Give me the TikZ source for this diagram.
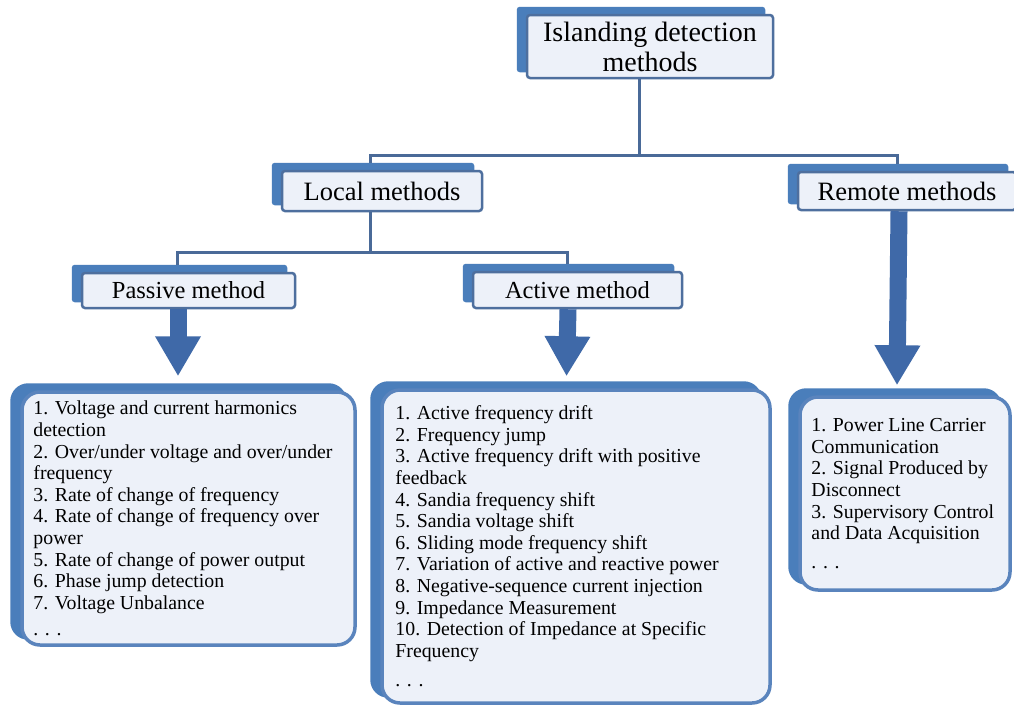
\documentclass[tikz,border=0pt]{standalone}
\usepackage{fontspec}
\setmainfont{Liberation Serif}
\usetikzlibrary{backgrounds,arrows.meta}

\definecolor{backblue}{HTML}{4A7EBB}
\definecolor{edgeblue}{HTML}{4E6F9E}
\definecolor{listedge}{HTML}{5A84BD}
\definecolor{paleblue}{HTML}{EDF1F9}
\definecolor{arrowblue}{HTML}{3F69A8}
\definecolor{linkblue}{HTML}{4A6A98}

\begin{document}
\begin{tikzpicture}[x=1pt,y=-1pt,
  head/.style={draw=edgeblue, line width=2.5pt, fill=paleblue, rounded corners=3pt, inner sep=0pt},
  headfont/.style={font=\fontsize{26.5}{28}\selectfont},
  listframe/.style={draw=listedge, line width=3.5pt, fill=paleblue, rounded corners=18pt, inner sep=0pt},
  listtext/.style={anchor=west, align=left, inner sep=0pt, font=\fontsize{19.8}{21.6}\selectfont},
  shadowback/.style={fill=backblue},
  link/.style={draw=linkblue, line width=3pt},
  fat/.style={draw=arrowblue, line width=17pt, -{Triangle[width=43pt,length=40pt]}},
]
\useasboundingbox (0,0) rectangle (1014,707);

% header boxes
\node[head, minimum width=246pt, minimum height=63pt, align=center,
      font=\fontsize{28}{30}\selectfont] (title) at (650,46.5)
      {Islanding detection\\methods};
\node[head, headfont, minimum width=200pt, minimum height=40pt] (local) at (382,191) {Local methods};
\node[head, headfont, minimum width=218pt, minimum height=38pt] (remote) at (907,191) {Remote methods};
\node[head, minimum width=213pt, minimum height=35pt, font=\fontsize{24.5}{26}\selectfont] (passive) at (188.5,290.5) {Passive method};
\node[head, minimum width=209pt, minimum height=36pt, font=\fontsize{24.5}{26}\selectfont] (active) at (577.5,290) {Active method};

% list frames
\node[listframe, minimum width=333pt, minimum height=253pt] (plist) at (188.5,518.5) {};
\node[listframe, minimum width=388pt, minimum height=313pt] (alist) at (576,546.5) {};
\node[listframe, minimum width=210pt, minimum height=193pt] (rlist) at (905,493.5) {};

% list contents
\node[listtext] (ptext) at ([xshift=13pt]plist.west) {%
1. Voltage and current harmonics\\
detection\\
2. Over/under voltage and over/under\\
frequency\\
3. Rate of change of frequency\\
4. Rate of change of frequency over\\
power\\
5. Rate of change of power output\\
6. Phase jump detection\\
7. Voltage Unbalance\\[4.5pt]
. . .};
\node[listtext] (atext) at ([xshift=15pt]alist.west) {%
1. Active frequency drift\\
2. Frequency jump\\
3. Active frequency drift with positive\\
feedback\\
4. Sandia frequency shift\\
5. Sandia voltage shift\\
6. Sliding mode frequency shift\\
7. Variation of active and reactive power\\
8. Negative-sequence current injection\\
9. Impedance Measurement\\
10. Detection of Impedance at Specific\\
Frequency\\[8pt]
. . .};
\node[listtext] (rtext) at ([xshift=13pt]rlist.west) {%
1. Power Line Carrier\\
Communication\\
2. Signal Produced by\\
Disconnect\\
3. Supervisory Control\\
and Data Acquisition\\[7pt]
. . .};

% offset blue backs behind every box
\begin{scope}[on background layer]
  \fill[white] (0,0) rectangle (1014,707);
  \foreach \n in {title,local,remote,passive,active}
    \fill[shadowback, rounded corners=3pt]
      ([shift={(-9,-7)}]\n.north west) rectangle ([shift={(-9,-7)}]\n.south east);
  \foreach \n in {plist,alist,rlist}
    \fill[shadowback, rounded corners=18pt]
      ([shift={(-10,-7)}]\n.north west) rectangle ([shift={(-10,-7)}]\n.south east);
\end{scope}

% tree connectors
\coordinate (bus1) at (0,155);
\coordinate (bus2) at (0,252);
\draw[link] ([xshift=-11pt]title.south) -- ([xshift=-11pt]title.south |- bus1);
\draw[link] ([xshift=-12pt,yshift=7pt]local.north) |- ([xshift=-10pt]remote.north |- bus1)
            -- ([xshift=-10pt,yshift=7pt]remote.north);
\draw[link] ([xshift=-12pt]local.south) -- ([xshift=-12pt]local.south |- bus2);
\draw[link] ([xshift=-11.5pt,yshift=7pt]passive.north) |- ([xshift=-10.5pt]active.north |- bus2)
            -- ([xshift=-10.5pt,yshift=7pt]active.north);

% block arrows into the lists
\draw[fat] ([xshift=-10.5pt]passive.south) -- ([xshift=-10.5pt,yshift=14pt]plist.north);
\draw[fat] ([xshift=-9.5pt]active.south) -- ([xshift=-9.5pt,yshift=12pt]alist.north);
\draw[fat] ([xshift=-8pt]remote.south) -- ([xshift=-8pt,yshift=10pt]rlist.north);
\end{tikzpicture}
\end{document}
